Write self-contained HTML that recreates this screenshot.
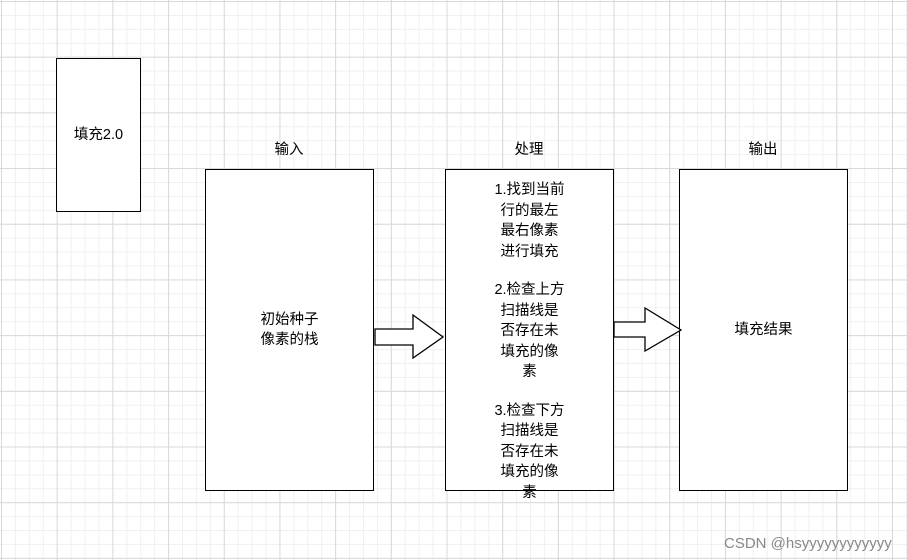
<!DOCTYPE html>
<html><head><meta charset="utf-8"><style>
body{margin:0;width:907px;height:560px;overflow:hidden;background:#fff;
background-image:
linear-gradient(#d9d9d9 1px,transparent 1px),linear-gradient(90deg,#d9d9d9 1px,transparent 1px),
linear-gradient(#f0f0f0 1px,transparent 1px),linear-gradient(90deg,#f0f0f0 1px,transparent 1px);
background-size:55.7px 55.7px,55.7px 55.7px,13.925px 13.925px,13.925px 13.925px;
background-position:0 1px,1px 0,0 1px,1px 0;
font-family:"Liberation Sans","Noto Sans CJK SC",sans-serif;font-size:14.5px;color:#000;position:relative}
.b{position:absolute;background:#fff;border:1.5px solid #000;box-sizing:border-box;display:flex;flex-direction:column;align-items:center;justify-content:center;text-align:center;line-height:20.5px}
.t{position:absolute;text-align:center;width:168px}
</style></head><body>
<div class="b" style="left:56px;top:58px;width:85px;height:154px">填充2.0</div>
<div class="t" style="left:205px;top:138px">输入</div>
<div class="t" style="left:445px;top:138px">处理</div>
<div class="t" style="left:679px;top:138px">输出</div>
<div class="b" style="left:205px;top:169px;width:169px;height:322px">初始种子<br>像素的栈</div>
<div class="b" style="left:445px;top:169px;width:169px;height:322px;justify-content:flex-start;padding-top:10px">
<div>1.找到当前<br>行的最左<br>最右像素<br>进行填充</div>
<div style="margin-top:18px">2.检查上方<br>扫描线是<br>否存在未<br>填充的像<br>素</div>
<div style="margin-top:18px">3.检查下方<br>扫描线是<br>否存在未<br>填充的像<br>素</div>
</div>
<div class="b" style="left:679px;top:169px;width:169px;height:322px">填充结果</div>
<svg style="position:absolute;left:0;top:0" width="907" height="560">
<polygon points="375,329 413,329 413,315 443,337 413,358 413,345 375,345" fill="#fff" stroke="#000" stroke-width="1.3"/>
<polygon points="614,322 645,322 645,308 681,330 645,351 645,337 614,337" fill="#fff" stroke="#000" stroke-width="1.3"/>
</svg>
<div style="position:absolute;left:724px;top:535px;color:#888;font-size:15px">CSDN @hsyyyyyyyyyyyy</div>
</body></html>
